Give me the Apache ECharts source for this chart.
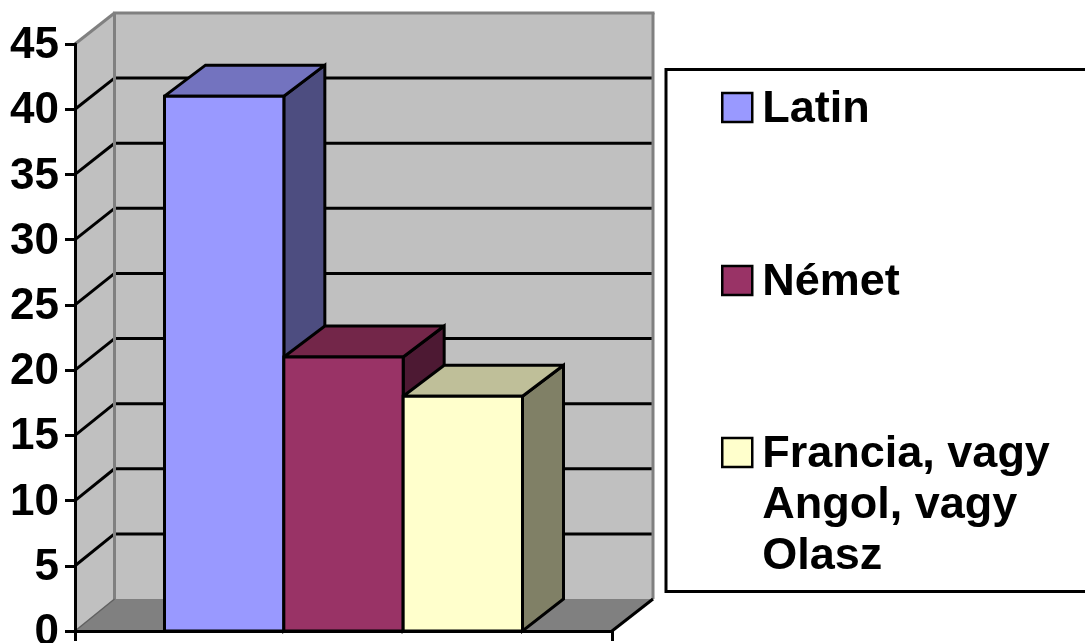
<!DOCTYPE html>
<html><head><meta charset="utf-8">
<style>html,body{margin:0;padding:0;background:#fff;overflow:hidden}#c{width:1085px;height:643px}</style>
<script src="https://cdn.jsdelivr.net/npm/echarts@6/dist/echarts.min.js"></script>
</head><body><div id="c"></div>
<script>
const categories = [''];
const seriesNames = ['Latin', 'Német', 'Francia, vagy\nAngol, vagy\nOlasz'];
const latin = [41];
const nemet = [21];
const francia = [18];
const yTicks = [5, 10, 15, 20, 25, 30, 35, 40];
const frontColors = ['#9999ff', '#993366', '#ffffcc'];
const topColors = ['#7373bf', '#732649', '#bfbf99'];
const sideColors = ['#4d4d80', '#4d1933', '#808066'];

const DX = 41, DXL = 39.5, DY = -31, LW = 3;
const backY = (y, t) => y + DY - (1 - t / 45) * 1;
const chart = echarts.init(document.getElementById('c'));

function poly(points, fill, stroke, w) {
  return { type: 'polygon', shape: { points }, style: { fill, stroke: stroke || 'none', lineWidth: w || 0, lineJoin: 'miter', miterLimit: 3 } };
}
function line(a, b, stroke, w) {
  return { type: 'line', shape: { x1: a[0], y1: a[1], x2: b[0], y2: b[1] }, style: { stroke, lineWidth: w } };
}
function renderWalls(params, api) {
  const band = api.size([1, 0])[0];
  const c = api.coord([0, 0]);
  const xl = c[0] - band / 2, xr = c[0] + band / 2, y0 = c[1], yT = api.coord([0, 45])[1];
  const bl = xl + DXL, br = xr + DX, bt = backY(yT, 45), bb = backY(y0, 0);
  const kids = [];
  kids.push(poly([[bl, bt], [br, bt], [br, bb], [bl, bb]], '#c0c0c0'));
  kids.push(poly([[xl, yT], [bl, bt], [bl, bb], [xl, y0]], '#c0c0c0'));
  kids.push(poly([[xl, y0], [bl, bb], [br, bb], [xr, y0]], '#808080'));
  yTicks.forEach(t => {
    const y = api.coord([0, t])[1];
    const yb = backY(y, t);
    kids.push(line([xl, y], [bl, yb], '#000', LW));
    kids.push(line([bl, yb], [br - 1, yb], '#000', LW));
  });
  kids.push(line([bl, bt], [bl, bb], '#808080', 3));
  kids.push(line([bl - 1.5, bt], [br + 1.5, bt], '#808080', 3));
  kids.push(line([br, bt], [br, bb], '#808080', 3));
  kids.push(line([xl, yT], [bl, bt], '#808080', 3));
  kids.push(line([xl, y0], [bl, bb], '#606060', 1.5));
  kids.push(line([xr, y0], [br, bb], '#000', LW));
  return { type: 'group', children: kids };
}
function renderBar(i) {
  return function (params, api) {
    const band = api.size([1, 0])[0];
    const w = band / 4.5;
    const c = api.coord([api.value(0), 0]);
    const x0 = c[0] - band / 2 + w * (0.75 + i), x1 = x0 + w;
    const yb = c[1], yt = api.coord([api.value(0), api.value(1)])[1];
    return { type: 'group', children: [
      poly([[x1, yt], [x1 + DX, yt + DY], [x1 + DX, yb + DY - 1], [x1, yb]], sideColors[i], '#000', LW),
      poly([[x0, yt], [x0 + DX, yt + DY], [x1 + DX, yt + DY], [x1, yt]], topColors[i], '#000', LW),
      poly([[x0, yt], [x1, yt], [x1, yb], [x0, yb]], frontColors[i], '#000', LW)
    ] };
  };
}
const font = { fontFamily: 'Liberation Sans', fontWeight: 'bold', fontSize: 44, color: '#000' };
const tag = s => s.split('\n').map(l => '{a|' + l + '}').join('\n');
function legendAt(name, top, fmt) {
  return {
    data: [name], orient: 'vertical', left: 721, top, padding: 0, itemWidth: 30, itemHeight: 29, itemGap: 0,
    icon: 'rect', selectedMode: false, itemStyle: { borderColor: '#000', borderWidth: 2.5 },
    textStyle: Object.assign({}, font, { fontSize: 45, lineHeight: 51,
      rich: { a: Object.assign({}, font, { fontSize: 45, lineHeight: 51, padding: [4, 0, 0, 5] }) } }),
    formatter: fmt || tag
  };
}
const bars = [latin, nemet, francia].map((vals, i) => ({
  name: seriesNames[i], type: 'custom', z: 3, renderItem: renderBar(i),
  itemStyle: { color: frontColors[i] },
  data: vals.map((v, k) => [k, v]), encode: { x: 0, y: 1 }, clip: false
}));
chart.setOption({
  animation: false,
  backgroundColor: '#fff',
  grid: { left: 75, top: 44, width: 537, height: 587, containLabel: false, outerBoundsMode: 'none' },
  xAxis: {
    type: 'category', data: categories, z: 5,
    axisLine: { lineStyle: { color: '#000', width: 3 } },
    axisTick: { show: true, length: 10, lineStyle: { color: '#000', width: 3 } },
    axisLabel: { show: false }, splitLine: { show: false }
  },
  yAxis: {
    type: 'value', min: 0, max: 45, interval: 5, z: 5,
    axisLine: { show: true, lineStyle: { color: '#000', width: 3 } },
    axisTick: { show: true, length: 10, lineStyle: { color: '#000', width: 3 } },
    axisLabel: Object.assign({ margin: 16, formatter: v => '{a|' + v + '}', rich: { a: Object.assign({}, font, { lineHeight: 50, padding: [4, 0, 0, 0] }) } }, font),
    splitLine: { show: false }
  },
  legend: [
    legendAt(seriesNames[0], 82),
    legendAt(seriesNames[1], 255),
    legendAt(seriesNames[2], 325, n => '{a| }\n{a| }\n' + tag(n))
  ],
  graphic: [{ type: 'rect', z: -1, shape: { x: 666, y: 69.5, width: 430, height: 522 }, style: { fill: '#fff', stroke: '#000', lineWidth: 3 } }],
  series: [{ type: 'custom', name: 'walls', z: 1, renderItem: renderWalls, data: [[0, 0]], encode: { x: 0, y: 1 }, clip: false, silent: true }].concat(bars)
});
</script></body></html>
